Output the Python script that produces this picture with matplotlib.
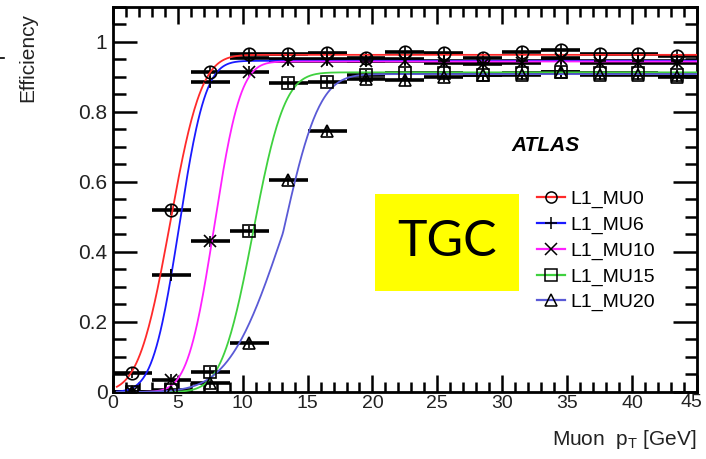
import math
import numpy as np
import matplotlib
matplotlib.use("Agg")
import matplotlib.pyplot as plt
from matplotlib.lines import Line2D
from matplotlib.patches import Rectangle
from matplotlib.ticker import MultipleLocator

plt.rcParams['font.family'] = ['Liberation Sans', 'DejaVu Sans']

# bin centres and half widths (GeV)
pt_bins = [1.5, 4.5, 7.5, 10.5, 13.5, 16.5, 19.5, 22.5, 25.5, 28.5, 31.5, 34.5, 37.5, 40.5, 43.5]
pt_halfwidth = 1.5

labels = ['L1_MU0', 'L1_MU6', 'L1_MU10', 'L1_MU15', 'L1_MU20']
colors = ['#ff2a2a', '#1a1aff', '#ff20ff', '#3fd13f', '#5a5ad6']
markers = ['o', '+', 'x', 's', '^']

eff_mu0 = [0.055, 0.52, 0.915, 0.965, 0.965, 0.967, 0.955, 0.971, 0.968, 0.954, 0.970, 0.977, 0.966, 0.966, 0.960]
eff_mu6 = [0.0, 0.335, 0.885, 0.955, 0.950, 0.950, 0.945, 0.950, 0.945, 0.940, 0.945, 0.955, 0.945, 0.945, 0.945]
eff_mu10 = [0.0, 0.035, 0.43, 0.915, 0.945, 0.945, 0.945, 0.945, 0.940, 0.938, 0.940, 0.950, 0.940, 0.940, 0.940]
eff_mu15 = [0.0, 0.005, 0.057, 0.46, 0.883, 0.886, 0.905, 0.910, 0.910, 0.905, 0.910, 0.915, 0.910, 0.910, 0.905]
eff_mu20 = [0.0, 0.0, 0.025, 0.14, 0.605, 0.745, 0.895, 0.890, 0.900, 0.905, 0.905, 0.915, 0.905, 0.905, 0.900]
eff_err = 0.015

# erf turn-on fit parameters: threshold, width below/above threshold, plateau
fit_mu = [4.4, 5.1, 7.8, 10.8, 13.1]
fit_sig_lo = [1.9, 1.6, 1.6, 1.9, 3.3]
fit_sig_hi = [1.9, 1.6, 1.6, 1.9, 2.2]
fit_plateau = [0.963, 0.946, 0.944, 0.913, 0.908]

x_ticks = [0, 5, 10, 15, 20, 25, 30, 35, 40, 45]

effs = [eff_mu0, eff_mu6, eff_mu10, eff_mu15, eff_mu20]

fig = plt.figure(figsize=(7.06, 4.59), dpi=100)
ax = fig.add_axes([0.160, 0.146, 0.827, 0.839])

erf = np.vectorize(math.erf)
xf = np.linspace(0.3, 45, 600)

for i in range(5):
    ax.errorbar(pt_bins, effs[i], xerr=pt_halfwidth, fmt='none',
                ecolor='black', elinewidth=2.6, capsize=0, zorder=2)
    ax.errorbar(pt_bins, effs[i], yerr=eff_err, fmt='none',
                ecolor='black', elinewidth=1.2, capsize=0, zorder=2)
    ax.plot(pt_bins, effs[i], linestyle='none', marker=markers[i], ms=9,
            mec='black', mfc='none', mew=1.2, zorder=4)

for i in range(5):
    sig = np.where(xf < fit_mu[i], fit_sig_lo[i], fit_sig_hi[i])
    yf = fit_plateau[i] * 0.5 * (1 + erf((xf - fit_mu[i]) / (math.sqrt(2) * sig)))
    ax.plot(xf, yf, color=colors[i], lw=1.3, zorder=3)

ax.set_xlim(0, 45)
ax.set_ylim(0, 1.1)
# last label is drawn by hand a little to the left so it stays inside the figure
ax.set_xticks(x_ticks, [str(t) for t in x_ticks[:-1]] + [''])
ax.xaxis.set_minor_locator(MultipleLocator(1))
ax.set_yticks([0, 0.2, 0.4, 0.6, 0.8, 1.0], ['0', '0.2', '0.4', '0.6', '0.8', '1'])
ax.yaxis.set_minor_locator(MultipleLocator(0.05))
ax.tick_params(axis='both', which='both', direction='in', width=1.8,
               top=True, right=True, labelcolor='#222222')
ax.tick_params(axis='y', which='major', length=17, pad=4, labelsize=15)
ax.tick_params(axis='y', which='minor', length=9)
ax.tick_params(axis='x', which='major', length=12, pad=2, labelsize=14)
ax.tick_params(axis='x', which='minor', length=7)
for s in ax.spines.values():
    s.set_linewidth(2)
ax.annotate(str(x_ticks[-1]), xy=(x_ticks[-1], 0), xycoords=('data', 'axes fraction'),
            xytext=(-4, -1.5), textcoords='offset points', ha='center', va='top',
            fontsize=14, color='#222222', annotation_clip=False)

fig.text(0.040, 0.972, 'Efficiency', fontsize=15, rotation=90, ha='center', va='top',
         color='#222222')
ax.set_xlabel('Muon  p$_{\\mathregular{T}}$ [GeV]', fontsize=15, loc='right', labelpad=12,
              color='#222222')

ax.text(33.3, 0.705, 'ATLAS', fontsize=15, fontweight='bold', fontstyle='italic',
        ha='center', va='center')

handles = [Line2D([], [], color=colors[i], lw=1.6, marker=markers[i], ms=8, mec='black',
                  mfc='none', mew=1.1) for i in range(5)]
ax.legend(handles, labels, loc='upper left', bbox_to_anchor=(0.727, 0.525), frameon=False,
          fontsize=14, handlelength=1.4, handletextpad=0.3, labelspacing=0.42, borderpad=0,
          borderaxespad=0)

# yellow TGC box
fig.patches.append(Rectangle((0.531, 0.366), 0.204, 0.211, transform=fig.transFigure,
                             facecolor='#ffff00', edgecolor='none', zorder=5))
fig.text(0.633, 0.473, 'TGC', fontsize=36, family='Lato', ha='center', va='center', zorder=6)

# stray dash at the left edge
fig.add_artist(Line2D([0, 0.005], [0.873, 0.873], color='black', lw=1.2, transform=fig.transFigure))

fig.savefig('out.png', dpi=100)
